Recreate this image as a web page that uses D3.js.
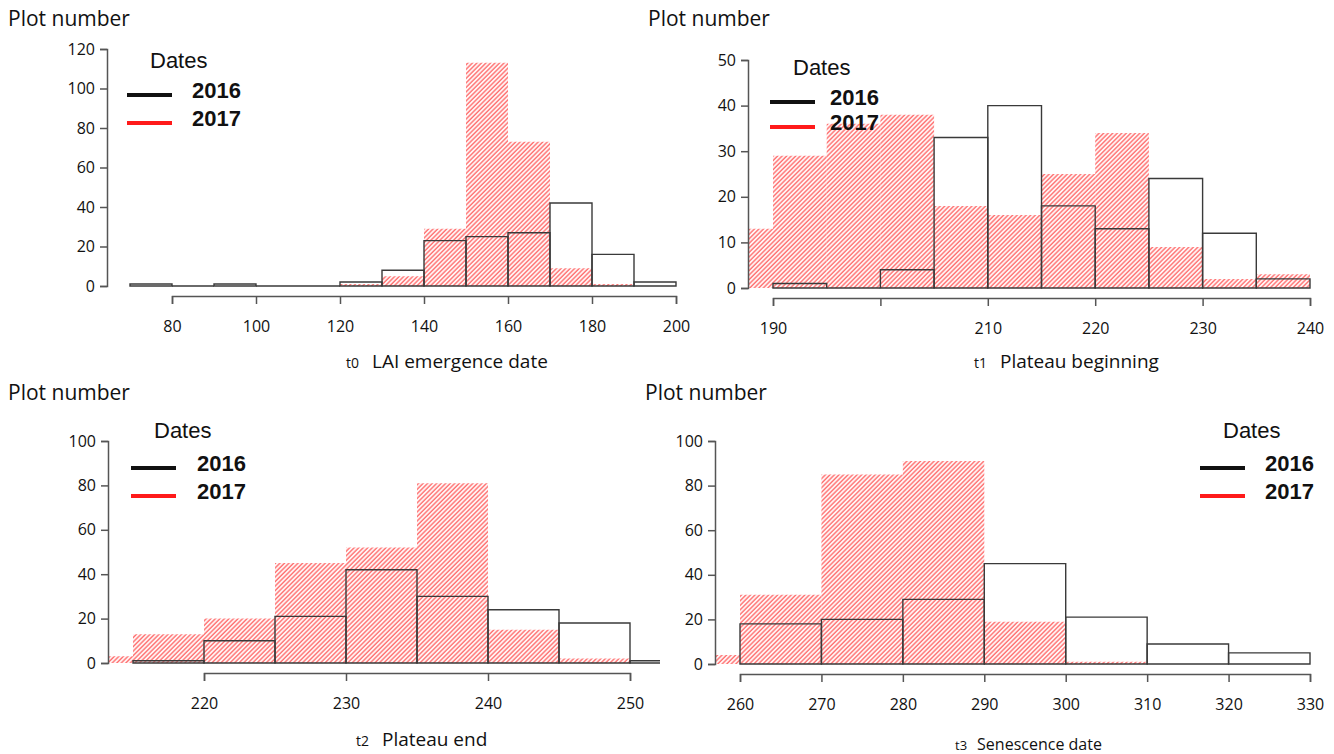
<!DOCTYPE html>
<html><head><meta charset="utf-8">
<script src="https://cdn.jsdelivr.net/npm/d3@7"></script>
<style>
body{margin:0;background:#fff;}
svg{display:block;}
</style></head>
<body>
<svg id="chart" width="1334" height="754"></svg>
<script>
// ---------- DATA ----------
// null = bin not part of that year's histogram
const years = ["2016", "2017"];

const t0Breaks = [70, 80, 90, 100, 110, 120, 130, 140, 150, 160, 170, 180, 190, 200];
const t0Counts2016 = [1, 0, 1, 0, 0, 2, 8, 23, 25, 27, 42, 16, 2];
const t0Counts2017 = [null, null, null, null, null, 1, 5, 29, 113, 73, 9, 1, null];
const t0XTicks = [80, 100, 120, 140, 160, 180, 200];
const t0YTicks = [0, 20, 40, 60, 80, 100, 120];

const t1Breaks = [185, 190, 195, 200, 205, 210, 215, 220, 225, 230, 235, 240];
const t1Counts2016 = [null, 1, 0, 4, 33, 40, 18, 13, 24, 12, 2];
const t1Counts2017 = [13, 29, 36, 38, 18, 16, 25, 34, 9, 2, 3];
const t1XTicks = [190, 200, 210, 220, 230, 240];
const t1XTickLabels = ["190", "", "210", "220", "230", "240"];
const t1YTicks = [0, 10, 20, 30, 40, 50];

const t2Breaks = [210, 215, 220, 225, 230, 235, 240, 245, 250, 255];
const t2Counts2016 = [null, 1, 10, 21, 42, 30, 24, 18, 1];
const t2Counts2017 = [3, 13, 20, 45, 52, 81, 15, 2, null];
const t2XTicks = [220, 230, 240, 250];
const t2YTicks = [0, 20, 40, 60, 80, 100];

const t3Breaks = [250, 260, 270, 280, 290, 300, 310, 320, 330];
const t3Counts2016 = [null, 18, 20, 29, 45, 21, 9, 5];
const t3Counts2017 = [4, 31, 85, 91, 19, 1, null, null];
const t3XTicks = [260, 270, 280, 290, 300, 310, 320, 330];
const t3YTicks = [0, 20, 40, 60, 80, 100];

const yTitle = "Plot number";
const legendTitle = "Dates";

// ---------- LAYOUT ----------
const panels = [
  { code: "t0", title: "LAI emergence date", breaks: t0Breaks, c16: t0Counts2016, c17: t0Counts2017,
    xt: t0XTicks, xtl: t0XTicks.map(String), yt: t0YTicks,
    xd: [80, 200], xr: [172, 676], yd: [0, 120], yr: [286, 49],
    axX: 107, axY: 296, clip: [107, 677, 0, 300],
    yTitlePos: [8, 26], titlePos: [346, 368], codeSize: 14, titleSize: 19, gap: 13,
    leg: { x: 127, titleY: 68, y1: 95, y2: 123, tx: 192 } },
  { code: "t1", title: "Plateau beginning", breaks: t1Breaks, c16: t1Counts2016, c17: t1Counts2017,
    xt: t1XTicks, xtl: t1XTickLabels, yt: t1YTicks,
    xd: [190, 240], xr: [773, 1310], yd: [0, 50], yr: [288, 60],
    axX: 748, axY: 298, clip: [748, 1316, 0, 300],
    yTitlePos: [648, 26], titlePos: [974, 368], codeSize: 14, titleSize: 19, gap: 13,
    leg: { x: 770, titleY: 75, y1: 102, y2: 127, tx: 830 } },
  { code: "t2", title: "Plateau end", breaks: t2Breaks, c16: t2Counts2016, c17: t2Counts2017,
    xt: t2XTicks, xtl: t2XTicks.map(String), yt: t2YTicks,
    xd: [220, 250], xr: [204, 630], yd: [0, 100], yr: [663, 441],
    axX: 108, axY: 673, clip: [108, 660, 380, 680],
    yTitlePos: [8, 400], titlePos: [356, 746], codeSize: 14, titleSize: 19, gap: 13,
    leg: { x: 131, titleY: 438, y1: 468, y2: 496, tx: 197 } },
  { code: "t3", title: "Senescence date", breaks: t3Breaks, c16: t3Counts2016, c17: t3Counts2017,
    xt: t3XTicks, xtl: t3XTicks.map(String), yt: t3YTicks,
    xd: [260, 330], xr: [740, 1310], yd: [0, 100], yr: [664, 441],
    axX: 715, axY: 674, clip: [715, 1316, 380, 680],
    yTitlePos: [645, 400], titlePos: [955, 750], codeSize: 13, titleSize: 16, gap: 10,
    leg: { x: 1200, titleY: 438, y1: 468, y2: 496, tx: 1265 } }
];

const svg = d3.select("#chart");
const defs = svg.append("defs");
defs.append("pattern")
  .attr("id", "hatch").attr("patternUnits", "userSpaceOnUse")
  .attr("width", 3.2).attr("height", 3.2)
  .attr("patternTransform", "rotate(45)")
  .append("line").attr("x1", 1).attr("y1", 0).attr("x2", 1).attr("y2", 3.2)
  .attr("stroke", "#ff7070").attr("stroke-width", 1.5);

const tickFont = "'Open Sans', sans-serif";
const legFont = "'Liberation Sans', Arial, sans-serif";
const axisCol = "#555";

panels.forEach((p, i) => {
  const x = d3.scaleLinear().domain(p.xd).range(p.xr);
  const y = d3.scaleLinear().domain(p.yd).range(p.yr);
  const g = svg.append("g");

  defs.append("clipPath").attr("id", "clip" + i)
    .append("rect").attr("x", p.clip[0]).attr("y", p.clip[2])
    .attr("width", p.clip[1] - p.clip[0]).attr("height", p.clip[3] - p.clip[2]);

  const bins = p.breaks.slice(0, -1).map((b, k) => ({ x0: b, x1: p.breaks[k + 1], a: p.c16[k], b: p.c17[k] }));
  const plot = g.append("g").attr("clip-path", `url(#clip${i})`);

  const barPath = v => d => {
    const pa = d3.path();
    pa.moveTo(x(d.x0), y(0));
    pa.lineTo(x(d.x0), y(d[v]));
    pa.lineTo(x(d.x1), y(d[v]));
    pa.lineTo(x(d.x1), y(0));
    pa.closePath();
    return pa.toString();
  };

  // 2017 hatched bars
  plot.selectAll("path.r17").data(bins.filter(d => d.b !== null && d.b > 0)).join("path")
    .attr("class", "r17")
    .attr("d", barPath("b"))
    .attr("fill", "url(#hatch)");

  // 2016 outline bars
  plot.selectAll("path.r16").data(bins.filter(d => d.a !== null)).join("path")
    .attr("class", "r16")
    .attr("d", barPath("a"))
    .attr("fill", "none").attr("stroke", "#3a3a3a").attr("stroke-width", 1.4);

  // y axis
  const ya = g.append("g").attr("transform", `translate(${p.axX},0)`)
    .call(d3.axisLeft(y).tickValues(p.yt).tickSize(7).tickPadding(5).tickFormat(d3.format("d")));
  ya.select(".domain").attr("stroke", axisCol).attr("stroke-width", 1.5);
  ya.selectAll(".tick line").attr("stroke", axisCol).attr("stroke-width", 1.5);
  ya.selectAll("text").attr("font-family", tickFont).attr("font-size", 16).attr("fill", "#111");

  // x axis
  const xa = g.append("g").attr("transform", `translate(0,${p.axY})`)
    .call(d3.axisBottom(x).tickValues(p.xt).tickSize(8).tickPadding(17)
      .tickFormat((d, k) => p.xtl[k]));
  xa.select(".domain").attr("stroke", axisCol).attr("stroke-width", 1.5);
  xa.selectAll(".tick line").attr("stroke", axisCol).attr("stroke-width", 1.5);
  xa.selectAll("text").attr("font-family", tickFont).attr("font-size", 16).attr("fill", "#111");

  // y title
  g.append("text").attr("x", p.yTitlePos[0]).attr("y", p.yTitlePos[1])
    .attr("font-family", tickFont).attr("font-size", 21).attr("fill", "#111").text(yTitle);

  // x title
  const xt = g.append("text").attr("x", p.titlePos[0]).attr("y", p.titlePos[1])
    .attr("font-family", tickFont).attr("fill", "#111");
  xt.append("tspan").attr("font-size", p.codeSize).text(p.code);
  xt.append("tspan").attr("dx", p.gap).attr("font-size", p.titleSize).text(p.title);

  // legend
  const L = p.leg;
  g.append("text").attr("x", L.x + 23).attr("y", L.titleY)
    .attr("font-family", legFont).attr("font-size", 22).attr("fill", "#111").text(legendTitle);
  [[L.y1, "#111", years[0]], [L.y2, "#ff1a1a", years[1]]].forEach(([ly, col, lab]) => {
    g.append("line").attr("x1", L.x).attr("x2", L.x + 45).attr("y1", ly).attr("y2", ly)
      .attr("stroke", col).attr("stroke-width", 4);
    g.append("text").attr("x", L.tx).attr("y", ly + 3)
      .attr("font-family", legFont).attr("font-weight", "bold").attr("font-size", 22)
      .attr("fill", "#111").text(lab);
  });
});
</script>
</body></html>
